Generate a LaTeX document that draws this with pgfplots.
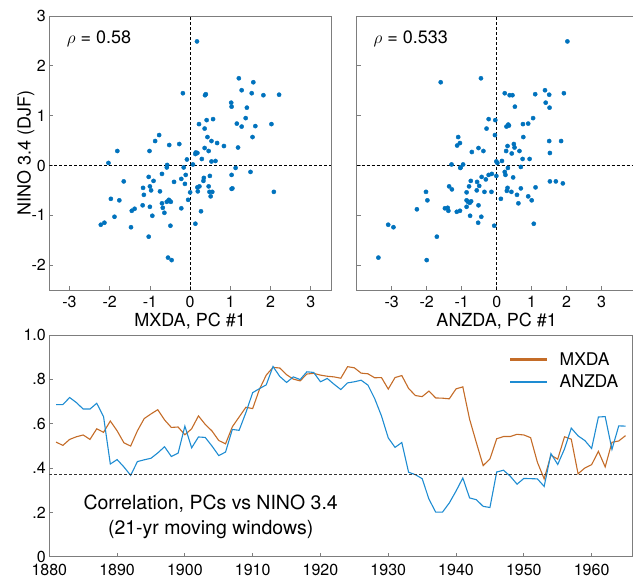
\documentclass[border=0pt]{standalone}
\usepackage{fontspec}
\setmainfont{TeX Gyre Heros}
\usepackage{pgfplots}
\pgfplotsset{compat=1.18}
\definecolor{dotblue}{RGB}{0,114,189}
\definecolor{lineblue}{RGB}{30,140,210}
\definecolor{lineorange}{RGB}{196,108,40}
\definecolor{axgray}{RGB}{125,125,125}
\pgfplotsset{mystyle/.style={
  scale only axis, anchor=south west,
  axis line style={axgray, line width=0.8pt},
  tick style={axgray, line width=0.8pt},
  tick align=inside, tick pos=left, major tick length=4pt,
  tick label style={font=\fontsize{16}{17}\selectfont, black},
  xticklabel style={yshift=-2.5pt},
  label style={font=\fontsize{18}{20}\selectfont},
  /pgf/number format/assume math mode=true,
}}
\begin{document}
\begin{tikzpicture}
\useasboundingbox (0pt,0pt) rectangle (633pt,583pt);
% ---------- top left ----------
\begin{axis}[mystyle, at={(49.3pt,293pt)}, width=281.7pt, height=274pt,
  xmin=-3.5, xmax=3.5, ymin=-2.5, ymax=3,
  xtick={-3,-2,-1,0,1,2,3}, ytick={-2,-1,0,1,2,3},
  xlabel={MXDA, PC \#1}, ylabel={NINO 3.4 (DJF)},
  xlabel style={at={(axis description cs:0.5,-0.113)}, anchor=center},
  ylabel style={at={(axis description cs:-0.083,0.5)}, anchor=center}]
\addplot[black, line width=0.8pt, dash pattern=on 3pt off 2pt] coordinates {(-3.5,0) (3.5,0)};
\addplot[black, line width=0.8pt, dash pattern=on 3pt off 2pt] coordinates {(0,-2.5) (0,3)};
\addplot[only marks, mark=*, mark size=2.1pt, color=dotblue] coordinates {
(0.17,2.49) (1.21,1.75) (1.57,1.67) (1.28,1.51) (1.53,1.45) (1.82,1.41) (2.21,1.42)
(-0.18,1.45) (0.39,1.43) (0.37,1.41) (1.02,1.26) (1.03,1.18) (1.41,1.16) (1.38,0.95)
(0.41,0.91) (0.57,0.93) (0.22,0.83) (1.16,0.84) (1.28,0.78) (1.62,0.79) (2.02,0.83)
(0.36,0.74) (1.55,0.57) (-0.77,0.61) (-0.87,0.49) (0.43,0.57) (0.53,0.49) (0.67,0.45)
(0.84,0.39) (1.19,0.36) (-0.27,0.43) (-0.52,0.41) (0.36,0.35) (0.46,0.29) (-1.81,0.29)
(-1.01,0.29) (0.14,0.26) (0.18,0.25) (0.13,0.23) (-0.08,0.12) (0.29,0.13) (0.53,0.08)
(0.63,0.09) (-2.03,0.05) (-0.57,0.01) (0.07,0.02) (-0.58,-0.04) (-0.16,-0.04) (1.13,-0.05)
(1.50,-0.13) (1.03,-0.19) (-0.70,-0.17) (-0.11,-0.19) (0.49,-0.21) (-1.03,-0.23) (0.34,-0.25)
(-0.22,-0.27) (0.33,-0.31) (-0.91,-0.31) (-1.65,-0.32) (-0.40,-0.33) (-0.13,-0.37) (0.23,-0.42)
(0.46,-0.42) (0.18,-0.44) (-1.00,-0.42) (-1.17,-0.45) (-0.97,-0.50) (0.19,-0.52) (0.48,-0.53)
(0.55,-0.53) (-0.75,-0.52) (0.00,-0.54) (-1.15,-0.59) (1.05,-0.46) (1.03,-0.47) (2.08,-0.53)
(0.51,-0.62) (-1.97,-0.67) (-1.76,-0.70) (-0.05,-0.69) (-0.53,-0.69) (-0.51,-0.71) (-0.58,-0.73)
(-0.48,-0.73) (-0.70,-0.76) (-0.68,-0.85) (-1.18,-0.80) (-1.00,-0.83) (-1.38,-0.87) (-1.45,-0.91)
(-0.22,-0.86) (0.27,-0.92) (-0.64,-0.95) (-0.94,-1.01) (-1.88,-1.03) (-2.13,-1.15) (-2.22,-1.19)
(-1.47,-1.24) (-0.49,-1.21) (0.13,-1.17) (-1.03,-1.43) (-0.55,-1.85) (-0.46,-1.90)
};
\node[anchor=west, font=\fontsize{18}{20}\selectfont] at (axis description cs:0.05,0.918) {$\rho$ = 0.58};
\end{axis}
% ---------- top right ----------
\begin{axis}[mystyle, at={(356.7pt,293pt)}, width=280pt, height=274pt,
  xmin=-4, xmax=4, ymin=-2.5, ymax=3,
  xtick={-3,-2,-1,0,1,2,3}, ytick={-2,-1,0,1,2,3}, yticklabels={},
  xlabel={ANZDA, PC \#1},
  xlabel style={at={(axis description cs:0.5,-0.113)}, anchor=center}]
\addplot[black, line width=0.8pt, dash pattern=on 3pt off 2pt] coordinates {(-4,0) (4,0)};
\addplot[black, line width=0.8pt, dash pattern=on 3pt off 2pt] coordinates {(0,-2.5) (0,3)};
\addplot[only marks, mark=*, mark size=2.1pt, color=dotblue] coordinates {
(2.02,2.49) (-0.45,1.75) (-1.60,1.67) (1.38,1.51) (0.23,1.45) (1.92,1.45) (0.37,1.41)
(0.45,1.41) (1.10,1.43) (1.50,1.42) (1.40,1.26) (1.51,1.16) (0.52,1.18) (-0.23,0.93)
(-0.04,0.91) (1.04,0.95) (-0.29,0.74) (0.28,0.78) (0.33,0.82) (0.35,0.80) (0.75,0.83)
(0.90,0.84) (-0.05,0.61) (-1.10,0.57) (-1.05,0.45) (-1.13,0.40) (0.76,0.57) (1.50,0.49)
(1.84,0.49) (0.31,0.39) (0.49,0.43) (0.51,0.36) (-0.52,0.35) (-0.38,0.29) (-0.71,0.27)
(0.27,0.29) (0.43,0.24) (0.65,0.29) (1.52,0.25) (0.74,0.13) (0.94,0.13) (0.15,0.09)
(-0.01,0.08) (0.02,0.05) (-1.29,0.02) (-0.96,0.02) (-1.03,-0.04) (-1.04,-0.05) (0.69,-0.03)
(0.32,-0.05) (0.23,-0.13) (0.25,-0.19) (-0.01,-0.21) (-0.23,-0.19) (-0.14,-0.17) (-0.43,-0.23)
(-0.31,-0.28) (0.47,-0.24) (-0.74,-0.31) (-0.56,-0.33) (-0.50,-0.41) (-1.36,-0.42) (-1.28,-0.48)
(-0.79,-0.42) (-0.57,-0.50) (-0.35,-0.53) (-0.15,-0.53) (0.31,-0.45) (0.29,-0.51) (0.42,-0.53)
(0.69,-0.46) (0.58,-0.59) (1.11,-0.44) (1.52,-0.32) (1.69,-0.32) (1.89,-0.36) (-2.02,-0.53)
(-0.86,-0.54) (-1.98,-0.70) (-0.86,-0.70) (-0.82,-0.73) (-0.73,-0.72) (-0.77,-0.75) (-0.52,-0.80)
(-0.86,-0.83) (0.12,-0.67) (0.62,-0.76) (0.90,-0.62) (1.00,-0.70) (-1.48,-0.86) (-1.40,-0.85)
(-1.38,-0.91) (-1.14,-0.93) (-1.05,-0.91) (-2.28,-0.88) (-0.76,-1.01) (-0.44,-1.03) (-0.53,-1.15)
(-0.07,-1.21) (1.06,-1.17) (-3.10,-1.19) (-2.95,-1.24) (-1.71,-1.43) (-3.38,-1.85) (-2.00,-1.90)
};
\node[anchor=west, font=\fontsize{18}{20}\selectfont] at (axis description cs:0.0475,0.918) {$\rho$ = 0.533};
\end{axis}
% ---------- bottom ----------
\begin{axis}[mystyle, at={(49.3pt,26.3pt)}, width=583pt, height=221.7pt,
  xmin=1880, xmax=1966, ymin=0, ymax=1,
  xtick={1880,1890,1900,1910,1920,1930,1940,1950,1960},
  xticklabels={1880,1890,1900,1910,1920,1930,1940,1950,1960},
  xticklabel style={yshift=-1.5pt},
  ytick={0,0.2,0.4,0.6,0.8,1}, yticklabels={0,.2,.4,.6,.8,1.0},
  legend style={draw=none, fill=none, at={(axis description cs:0.985,0.94)}, anchor=north east,
    font=\fontsize{17.5}{19}\selectfont, row sep=4pt,
    /tikz/every odd column/.append style={column sep=9pt}},
  legend cell align=left,
  legend image code/.code={\draw[#1] (0pt,0pt) -- (37pt,0pt);}]
\addlegendimage{color=lineorange, line width=2.6pt}
\addlegendentry{MXDA}
\addlegendimage{color=lineblue, line width=2.6pt}
\addlegendentry{ANZDA}
\addplot[lineorange, line width=1.1pt, forget plot] coordinates {
(1881,0.517) (1882,0.502) (1883,0.529) (1884,0.541) (1885,0.549) (1886,0.529) (1887,0.577)
(1888,0.561) (1889,0.612) (1890,0.568) (1891,0.514) (1892,0.499) (1893,0.568) (1894,0.623)
(1895,0.644) (1896,0.663) (1897,0.617) (1898,0.583) (1899,0.585) (1900,0.550) (1901,0.577)
(1902,0.635) (1903,0.597) (1904,0.567) (1905,0.524) (1906,0.509) (1907,0.586) (1908,0.630)
(1909,0.674) (1910,0.668) (1911,0.755) (1912,0.819) (1913,0.854) (1914,0.851) (1915,0.821)
(1916,0.801) (1917,0.793) (1918,0.824) (1919,0.827) (1920,0.819) (1921,0.814) (1922,0.811)
(1923,0.805) (1924,0.857) (1925,0.852) (1926,0.828) (1927,0.825) (1928,0.807) (1929,0.808)
(1930,0.756) (1931,0.808) (1932,0.817) (1933,0.759) (1934,0.727) (1935,0.722) (1936,0.747)
(1937,0.716) (1938,0.715) (1939,0.712) (1940,0.757) (1941,0.766) (1942,0.620) (1943,0.514)
(1944,0.411) (1945,0.441) (1946,0.532) (1947,0.542) (1948,0.542) (1949,0.552) (1950,0.549)
(1951,0.537) (1952,0.426) (1953,0.351) (1954,0.458) (1955,0.440) (1956,0.541) (1957,0.530)
(1958,0.374) (1959,0.400) (1960,0.415) (1961,0.475) (1962,0.405) (1963,0.516) (1964,0.522)
(1965,0.546)
};
\addplot[lineblue, line width=1.1pt, forget plot] coordinates {
(1881,0.686) (1882,0.686) (1883,0.718) (1884,0.695) (1885,0.666) (1886,0.666) (1887,0.692)
(1888,0.632) (1889,0.418) (1890,0.438) (1891,0.405) (1892,0.367) (1893,0.429) (1894,0.437)
(1895,0.444) (1896,0.468) (1897,0.496) (1898,0.452) (1899,0.467) (1900,0.589) (1901,0.491)
(1902,0.540) (1903,0.538) (1904,0.499) (1905,0.456) (1906,0.472) (1907,0.574) (1908,0.570)
(1909,0.650) (1910,0.740) (1911,0.758) (1912,0.775) (1913,0.858) (1914,0.813) (1915,0.786)
(1916,0.811) (1917,0.799) (1918,0.834) (1919,0.831) (1920,0.789) (1921,0.804) (1922,0.778)
(1923,0.754) (1924,0.784) (1925,0.789) (1926,0.796) (1927,0.774) (1928,0.713) (1929,0.635)
(1930,0.536) (1931,0.493) (1932,0.515) (1933,0.381) (1934,0.370) (1935,0.352) (1936,0.260)
(1937,0.201) (1938,0.201) (1939,0.242) (1940,0.296) (1941,0.355) (1942,0.265) (1943,0.257)
(1944,0.227) (1945,0.222) (1946,0.382) (1947,0.390) (1948,0.363) (1949,0.327) (1950,0.353)
(1951,0.352) (1952,0.351) (1953,0.317) (1954,0.465) (1955,0.416) (1956,0.486) (1957,0.580)
(1958,0.545) (1959,0.524) (1960,0.488) (1961,0.630) (1962,0.632) (1963,0.484) (1964,0.590)
(1965,0.589)
};
\addplot[black!80, line width=0.8pt, dash pattern=on 3pt off 2pt, forget plot] coordinates {(1880,0.372) (1966,0.372)};
\node[align=center, font=\fontsize{19.5}{25}\selectfont] at (axis cs:1903.8,0.178) {Correlation, PCs vs NINO 3.4\\(21-yr moving windows)};
\end{axis}
\end{tikzpicture}
\end{document}
